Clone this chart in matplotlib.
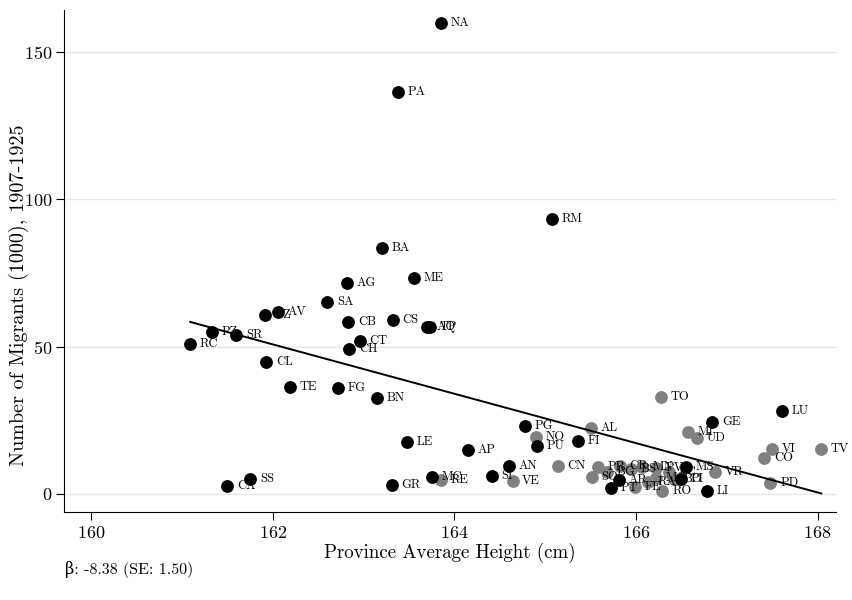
import numpy as np
import matplotlib
matplotlib.use('Agg')
import matplotlib.pyplot as plt

# Computer Modern look, DejaVu Serif for the greek letter
plt.rcParams['font.family'] = ['cmr10', 'DejaVu Serif']
plt.rcParams['axes.formatter.use_mathtext'] = True

# provinces in black
black_lab = ['NA', 'PA', 'RM', 'BA', 'ME', 'AG', 'SA', 'AV', 'CZ', 'CB', 'CS', 'AQ', 'TP',
             'PZ', 'SR', 'RC', 'CT', 'CH', 'CL', 'TE', 'FG', 'BN', 'LE', 'AP', 'PG', 'PU',
             'FI', 'AN', 'SI', 'MC', 'GR', 'SS', 'CA', 'GE', 'LU', 'MS', 'PI', 'LI', 'AR', 'PT']
black_x = [163.85, 163.38, 165.07, 163.20, 163.55, 162.82, 162.60, 162.06, 161.91, 162.83,
           163.32, 163.70, 163.73, 161.33, 161.60, 161.09, 162.96, 162.84, 161.93, 162.19,
           162.72, 163.15, 163.48, 164.15, 164.78, 164.91, 165.36, 164.60, 164.41, 163.75,
           163.31, 161.75, 161.50, 166.84, 167.61, 166.55, 166.49, 166.78, 165.81, 165.72]
black_y = [159.8, 136.4, 93.3, 83.5, 73.3, 71.6, 65.2, 61.8, 60.7, 58.4,
           59.0, 56.8, 56.8, 55.0, 54.0, 50.9, 51.9, 49.2, 44.8, 36.3,
           36.0, 32.6, 17.6, 14.9, 23.1, 16.3, 18.0, 9.5, 6.1, 5.8,
           3.1, 5.1, 2.7, 24.4, 28.2, 9.2, 5.1, 1.0, 4.8, 2.0]

# provinces in gray
gray_lab = ['TO', 'AL', 'NO', 'CN', 'VE', 'RE', 'MI', 'UD', 'VI', 'TV', 'CO', 'VR', 'PD',
            'PR', 'SO', 'BG', 'CR', 'BS', 'MN', 'PV', 'PC', 'BO', 'RA', 'FE', 'RO', 'MO']
gray_x = [166.27, 165.50, 164.90, 165.14, 164.64, 163.85, 166.57, 166.67, 167.50, 168.04,
          167.41, 166.87, 167.48, 165.58, 165.51, 165.68, 165.82, 165.94, 166.07, 166.22,
          166.36, 166.42, 166.13, 165.99, 166.29, 166.22]
gray_y = [32.9, 22.4, 19.3, 9.5, 4.4, 4.8, 21.0, 19.0, 15.3, 15.3,
          12.2, 7.5, 3.7, 9.2, 5.8, 7.5, 9.5, 8.5, 9.2, 8.8,
          7.5, 5.1, 4.1, 2.4, 1.0, 5.4]

# fitted line
beta = -8.38
se = 1.50
intercept = 1408.3

fig = plt.figure(figsize=(8.52, 6), dpi=100)
ax = fig.add_axes([0.075, 0.147, 0.906, 0.836])

ax.scatter(gray_x, gray_y, s=85, color='#808080', zorder=3, linewidths=0)
for lab, x, y in zip(gray_lab, gray_x, gray_y):
    ax.annotate(lab, (x, y), xytext=(7, 0), textcoords='offset points',
                va='center', ha='left', fontsize=9, zorder=4)

ax.scatter(black_x, black_y, s=85, color='black', zorder=5, linewidths=0)
for lab, x, y in zip(black_lab, black_x, black_y):
    ax.annotate(lab, (x, y), xytext=(7, 0), textcoords='offset points',
                va='center', ha='left', fontsize=9, zorder=6)

all_x = np.array(black_x + gray_x)
xs = np.array([all_x.min(), all_x.max()])
ax.plot(xs, intercept + beta * xs, color='black', lw=1.4, zorder=7)

ax.set_xlim(159.7, 168.2)
ax.set_ylim(-6.1, 164.2)
ax.set_xticks([160, 162, 164, 166, 168])
ax.set_yticks([0, 50, 100, 150])
ax.yaxis.grid(True, color='#e6e6e6', lw=1)
ax.set_axisbelow(True)
for s in ['top', 'right']:
    ax.spines[s].set_visible(False)
ax.tick_params(direction='out', length=6, labelsize=13)
ax.tick_params(axis='y', pad=2)
ax.set_xlabel('Province Average Height (cm)', fontsize=13.6, labelpad=1)
ax.set_ylabel('Number of Migrants (1000), 1907-1925', fontsize=14.5)
ax.yaxis.set_label_coords(-0.045, 0.432)

fig.text(0.076, 0.05, 'β: -8.38 (SE: 1.50)', fontsize=11.5, va='center')

fig.savefig('out.png', dpi=100)
